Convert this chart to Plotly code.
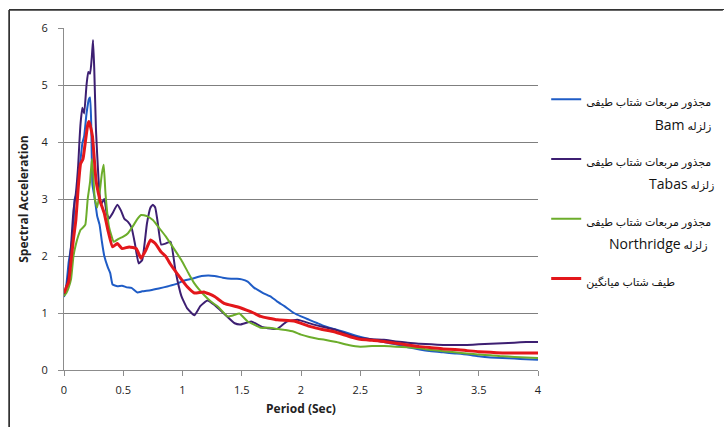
import plotly.graph_objects as go

# ---------------- data ----------------
bam_x = [0, 0.02, 0.04, 0.06, 0.08, 0.09, 0.1, 0.12, 0.14, 0.155, 0.17, 0.19, 0.21, 0.22, 0.23, 0.24,
         0.26, 0.28, 0.3, 0.32, 0.34, 0.37, 0.39, 0.41, 0.45, 0.49, 0.53, 0.57, 0.62, 0.66, 0.73, 0.8,
         0.88, 0.95, 1.0, 1.08, 1.16, 1.22, 1.27, 1.34, 1.41, 1.46, 1.5, 1.55, 1.6, 1.68, 1.75, 1.8,
         1.86, 1.94, 2.0, 2.07, 2.14, 2.2, 2.28, 2.36, 2.45, 2.52, 2.6, 2.7, 2.8, 2.9, 3.0, 3.1, 3.2,
         3.3, 3.4, 3.5, 3.6, 3.7, 3.8, 3.9, 4.0]
bam_y = [1.28, 1.5, 1.9, 2.16, 2.5, 3.0, 3.05, 3.3, 3.7, 3.98, 4.1, 4.5, 4.75, 4.78, 4.3, 3.25,
         3.0, 2.7, 2.55, 2.25, 2.0, 1.8, 1.7, 1.5, 1.47, 1.48, 1.45, 1.44, 1.36, 1.38, 1.4, 1.43,
         1.47, 1.51, 1.56, 1.6, 1.65, 1.66, 1.65, 1.62, 1.6, 1.6, 1.59, 1.55, 1.45, 1.35, 1.28, 1.2,
         1.12, 1.0, 0.94, 0.88, 0.82, 0.77, 0.72, 0.67, 0.61, 0.57, 0.53, 0.49, 0.45, 0.4, 0.36, 0.33, 0.31,
         0.29, 0.27, 0.24, 0.22, 0.21, 0.2, 0.19, 0.18]

tabas_x = [0, 0.02, 0.04, 0.06, 0.08, 0.1, 0.12, 0.13, 0.14, 0.155, 0.17, 0.19, 0.205, 0.22, 0.235,
           0.245, 0.255, 0.27, 0.29, 0.31, 0.34, 0.36, 0.38, 0.41, 0.45, 0.48, 0.51, 0.54, 0.57, 0.6,
           0.63, 0.66, 0.7, 0.73, 0.75, 0.77, 0.79, 0.82, 0.86, 0.9, 0.94, 0.99, 1.04, 1.1, 1.15, 1.21,
           1.27, 1.35, 1.44, 1.49, 1.58, 1.68, 1.8, 1.88, 1.97, 2.1, 2.2, 2.3, 2.4, 2.5, 2.6, 2.7, 2.8,
           2.9, 3.0, 3.1, 3.2, 3.3, 3.4, 3.5, 3.6, 3.7, 3.8, 3.9, 4.0]
tabas_y = [1.3, 1.45, 1.7, 2.2, 2.8, 3.1, 3.6, 4.0, 4.33, 4.6, 4.5, 5.0, 5.23, 5.2, 5.5,
           5.79, 5.3, 4.2, 3.4, 2.9, 3.0, 2.75, 2.66, 2.75, 2.9, 2.8, 2.65, 2.6, 2.5, 2.2,
           1.87, 1.93, 2.57, 2.85, 2.9, 2.85, 2.6, 2.2, 2.22, 2.25, 1.75, 1.3, 1.08, 0.96, 1.12, 1.22,
           1.14, 0.99, 0.82, 0.8, 0.85, 0.75, 0.72, 0.85, 0.88, 0.8, 0.75, 0.7, 0.62, 0.56, 0.54, 0.53, 0.5,
           0.48, 0.46, 0.45, 0.44, 0.44, 0.44, 0.45, 0.46, 0.47, 0.48, 0.49, 0.49]

north_x = [0, 0.02, 0.04, 0.06, 0.08, 0.1, 0.12, 0.14, 0.16, 0.18, 0.2, 0.22, 0.235, 0.245, 0.26,
           0.28, 0.3, 0.32, 0.335, 0.35, 0.38, 0.42, 0.46, 0.5, 0.54, 0.58, 0.62, 0.65, 0.7, 0.75, 0.8,
           0.86, 0.93, 0.99, 1.05, 1.1, 1.18, 1.24, 1.3, 1.38, 1.43, 1.48, 1.55, 1.6, 1.66, 1.73, 1.8,
           1.87, 1.94, 2.0, 2.07, 2.14, 2.2, 2.3, 2.4, 2.5, 2.6, 2.7, 2.8, 2.9, 3.0, 3.1, 3.2, 3.3, 3.4,
           3.5, 3.6, 3.7, 3.8, 3.9, 4.0]
north_y = [1.3, 1.35, 1.45, 1.6, 2.0, 2.2, 2.35, 2.46, 2.5, 2.55, 3.0, 3.3, 3.7, 3.5, 3.0,
           2.85, 3.1, 3.45, 3.6, 3.1, 2.51, 2.25, 2.3, 2.34, 2.4, 2.52, 2.65, 2.72, 2.7, 2.63, 2.5,
           2.34, 2.12, 1.93, 1.7, 1.52, 1.32, 1.2, 1.11, 0.94, 0.96, 0.99, 0.85, 0.8, 0.74, 0.74, 0.72,
           0.7, 0.67, 0.62, 0.58, 0.55, 0.53, 0.49, 0.44, 0.41, 0.42, 0.42, 0.41, 0.4, 0.38, 0.35, 0.33, 0.31, 0.29,
           0.27, 0.26, 0.24, 0.23, 0.22, 0.21]

avg_x = [0, 0.02, 0.04, 0.06, 0.08, 0.1, 0.12, 0.14, 0.16, 0.18, 0.2, 0.21, 0.22, 0.24, 0.27, 0.29,
         0.31, 0.34, 0.37, 0.41, 0.45, 0.49, 0.55, 0.61, 0.65, 0.69, 0.73, 0.77, 0.82, 0.86, 0.9, 0.98,
         1.04, 1.1, 1.18, 1.27, 1.35, 1.46, 1.54, 1.6, 1.66, 1.8, 1.94, 2.08, 2.18, 2.28, 2.42, 2.5,
         2.6, 2.7, 2.8, 2.9, 3.0, 3.1, 3.2, 3.3, 3.4, 3.5, 3.6, 3.7, 3.8, 3.9, 4.0]
avg_y = [1.35, 1.45, 1.55, 1.93, 2.3, 2.63, 3.2, 3.62, 3.7, 4.0, 4.3, 4.36, 4.3, 4.1, 3.33, 3.1,
         2.93, 2.75, 2.46, 2.16, 2.22, 2.13, 2.16, 2.13, 1.96, 2.1, 2.28, 2.22, 2.07, 1.99, 1.85, 1.62,
         1.46, 1.35, 1.37, 1.29, 1.17, 1.11, 1.05, 1.0, 0.94, 0.88, 0.86, 0.76, 0.71, 0.67, 0.58, 0.54,
         0.52, 0.5, 0.47, 0.44, 0.41, 0.39, 0.37, 0.36, 0.34, 0.32, 0.31, 0.3, 0.3, 0.3, 0.3]

AR_LINE = "مجذور مربعات شتاب طیفی"
QUAKE = "زلزله"
quake_names = ["Bam", "Tabas", "Northridge"]
avg_name = "طیف شتاب میانگین"
pads = [24, 22, 8]

NBSP = "\u00a0"


def ar(t):
    return '<span style="font-size:11px">' + t + '</span>'


def lat(t):
    return '<span style="font-size:14px">' + t + '</span>'


series_names = [ar(AR_LINE) + "<br>" + ar(NBSP * p) + lat(q) + ar(" " + QUAKE)
                for q, p in zip(quake_names, pads)]
series_names.append(ar(avg_name))

x_ticks = [0, 0.5, 1, 1.5, 2, 2.5, 3, 3.5, 4]
x_tick_labels = ["0", "0.5", "1", "1.5", "2", "2.5", "3", "3.5", "4"]
y_ticks = [0, 1, 2, 3, 4, 5, 6]

colors = ["#1f5cc6", "#3d1f72", "#6cad2b", "#e3171b"]
widths = [2, 2, 2, 3]

fig = go.Figure()
for i, (xs, ys) in enumerate([(bam_x, bam_y), (tabas_x, tabas_y), (north_x, north_y), (avg_x, avg_y)]):
    fig.add_trace(go.Scatter(
        x=xs, y=ys, mode="lines", name=series_names[i],
        line=dict(color=colors[i], width=widths[i], shape="spline", smoothing=0.4),
        legendgroup="g%d" % i,
    ))

fig.update_layout(
    width=724, height=427,
    margin=dict(l=64, r=186, t=28, b=57, autoexpand=False),
    paper_bgcolor="white", plot_bgcolor="white",
    font=dict(family="Open Sans, DejaVu Sans, sans-serif", size=11, color="#222"),
    showlegend=True,
    legend=dict(x=1.0173, y=0.845, xanchor="left", yanchor="top",
                font=dict(family="Open Sans, DejaVu Sans, sans-serif", size=18, color="#111"),
                tracegroupgap=10, itemwidth=30, valign="top", bgcolor="rgba(0,0,0,0)"),
    xaxis=dict(range=[0, 4], tickvals=x_ticks, ticktext=x_tick_labels, showgrid=False,
               showline=True, linecolor="#8c8c8c", linewidth=1, ticks="outside", ticklen=5,
               tickcolor="#8c8c8c", zeroline=False, ticklabelstandoff=5,
               title=dict(text="<b>Period (Sec)</b>", font=dict(size=12, color="#222"), standoff=8)),
    yaxis=dict(range=[0, 6], tickvals=y_ticks, showgrid=True, gridcolor="#7f7f7f", gridwidth=1,
               showline=True, linecolor="#8c8c8c", linewidth=1, ticks="outside", ticklen=5,
               tickcolor="#8c8c8c", zeroline=False, ticklabelstandoff=8,
               title=dict(text="<b>Spectral Acceleration</b>", font=dict(size=12, color="#222"), standoff=10)),
    shapes=[
        dict(type="line", xref="paper", yref="paper", x0=-0.116, x1=1.39, y0=1.0526, y1=1.0526,
             line=dict(color="#333", width=1.5), layer="above"),
        dict(type="line", xref="paper", yref="paper", x0=-0.116, x1=-0.116, y0=1.0526, y1=-0.2,
             line=dict(color="#333", width=1.5), layer="above"),
    ],
)

post = (
    "document.body.style.margin='0';document.body.style.overflow='hidden';"
    "var fr=document.createElement('div');"
    "fr.style.cssText='position:absolute;left:9px;top:9px;width:720px;height:440px;"
    "border-top:1.5px solid #333;border-left:1.5px solid #333;pointer-events:none;z-index:5;';"
    "document.body.appendChild(fr);"
)
fig.write_html("out.html", config={"displayModeBar": False}, post_script=post)
